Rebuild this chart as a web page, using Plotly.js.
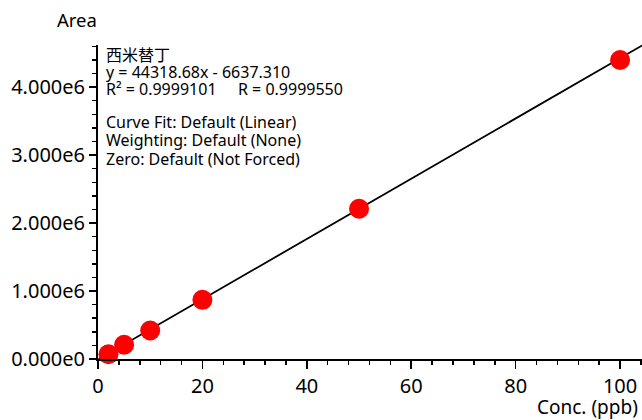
<!DOCTYPE html>
<html>
<head>
<meta charset="utf-8">
<script src="https://cdn.plot.ly/plotly-3.0.1.min.js"></script>
<style>html,body{margin:0;padding:0;background:#fff;}#chart{width:642px;height:420px;}</style>
</head>
<body>
<div id="chart"></div>
<script>
// Calibration points (concentration in ppb, peak area)
const conc = [2, 5, 10, 20, 50, 100];
const area = [70000, 210000, 420000, 870000, 2210000, 4400000];

// Regression given on the chart
const slope = 44318.68;
const intercept = -6637.310;
const fitX = [0, 106];
const fitY = fitX.map(x => slope * x + intercept);

// Axis ticks
const yTickVals = [0, 1000000, 2000000, 3000000, 4000000];
const yTickText = ["0.000e0", "1.000e6", "2.000e6", "3.000e6", "4.000e6"];
const xTickVals = [0, 20, 40, 60, 80, 100];

const compound = "西米替丁";
const infoLines = [
  "y = 44318.68x - 6637.310",
  "R² = 0.9999101",
  "R = 0.9999550",
  "Curve Fit: Default (Linear)",
  "Weighting: Default (None)",
  "Zero: Default (Not Forced)"
];

const FONT = '"Noto Sans", "Noto Sans CJK SC", sans-serif';

const traces = [
  {
    x: fitX, y: fitY, mode: 'lines', type: 'scatter',
    line: {color: '#000000', width: 1.8},
    hoverinfo: 'skip', showlegend: false
  },
  {
    x: conc, y: area, mode: 'markers', type: 'scatter',
    marker: {color: '#ff0000', size: 20},
    cliponaxis: false, showlegend: false
  }
];

// pixel helpers for annotation placement (plot area: left 98, top 45, w 544, h 314)
const px = v => (v - 98) / 544;
const py = v => (359 - v) / 314;

const annFont = {family: FONT, size: 16, color: '#000'};
const ann = (text, x, y) => ({
  text: text, x: px(x), y: py(y), xref: 'paper', yref: 'paper',
  xanchor: 'left', yanchor: 'middle', showarrow: false, font: annFont,
  borderpad: 0
});

const layout = {
  width: 642, height: 420,
  margin: {l: 98, r: 0, t: 45, b: 61},
  paper_bgcolor: '#fff', plot_bgcolor: '#fff',
  font: {family: FONT, color: '#000'},
  xaxis: {
    range: [0, 104.2], showgrid: false, zeroline: false,
    showline: true, linecolor: '#000', linewidth: 2,
    tickmode: 'array', tickvals: xTickVals,
    ticks: 'outside', ticklen: 8, tickwidth: 1.5, tickcolor: '#000',
    tickfont: {family: FONT, size: 20, color: '#000'},
    minor: {dtick: 4, ticks: 'outside', ticklen: 4, tickwidth: 1.5, tickcolor: '#000', showgrid: false}
  },
  yaxis: {
    range: [0, 4620000], showgrid: false, zeroline: false,
    showline: true, linecolor: '#000', linewidth: 2,
    tickmode: 'array', tickvals: yTickVals, ticktext: yTickText,
    ticks: 'outside', ticklen: 7, tickwidth: 1.5, tickcolor: '#000',
    tickfont: {family: FONT, size: 20, color: '#000'},
    minor: {dtick: 200000, ticks: 'outside', ticklen: 4, tickwidth: 1.5, tickcolor: '#000', showgrid: false}
  },
  annotations: [
    {text: 'Area', x: px(55), y: py(20), xref: 'paper', yref: 'paper', xanchor: 'left', yanchor: 'middle',
     showarrow: false, font: {family: FONT, size: 18.5, color: '#000'}},
    {text: 'Conc. (ppb)', x: px(639), y: py(407), xref: 'paper', yref: 'paper', xanchor: 'right', yanchor: 'middle',
     showarrow: false, font: {family: FONT, size: 19, color: '#000'}, borderpad: 0},
    ann(compound, 105, 55),
    ann(infoLines[0], 105, 72),
    ann(infoLines[1], 105, 89),
    ann(infoLines[2], 237, 89),
    ann(infoLines[3], 105, 122),
    ann(infoLines[4], 105, 140),
    ann(infoLines[5], 105, 159)
  ]
};

Plotly.newPlot('chart', traces, layout, {displayModeBar: false, staticPlot: true});
</script>
</body>
</html>
